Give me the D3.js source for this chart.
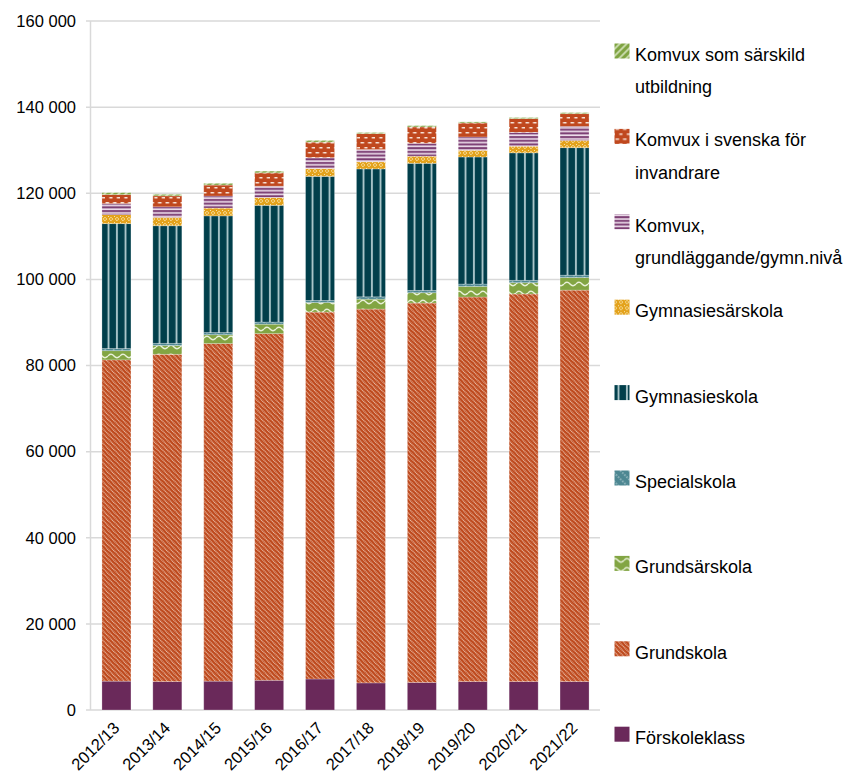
<!DOCTYPE html>
<html><head><meta charset="utf-8">
<script src="https://cdn.jsdelivr.net/npm/d3@7"></script>
<style>
html,body{margin:0;padding:0;background:#fff;}
svg{display:block;font-family:"Liberation Sans",Arial,sans-serif;}
</style></head>
<body>
<svg id="chart" width="854" height="775"></svg>
<script>
// ---- data ----
const years = ["2012/13","2013/14","2014/15","2015/16","2016/17","2017/18","2018/19","2019/20","2020/21","2021/22"];
const forskoleklass   = [6700, 6600, 6700, 6900, 7200, 6300, 6400, 6600, 6600, 6600];
const grundskola      = [74600, 76000, 78400, 80500, 85200, 86800, 88100, 89300, 90000, 90900];
const grundsarskola   = [2140, 2050, 2050, 2190, 2220, 2300, 2400, 2470, 2630, 2930];
const specialskola    = [500, 500, 500, 500, 500, 550, 550, 550, 550, 550];
const gymnasieskola   = [29000, 27300, 27100, 27100, 28800, 29700, 29500, 29500, 29600, 29600];
const gymnasiesarskola= [2100, 1950, 1800, 1800, 1800, 1650, 1650, 1550, 1550, 1700];
const komvuxGrund     = [2550, 2450, 2800, 2650, 2550, 2850, 3000, 3100, 3200, 3250];
const komvuxSfi       = [2100, 2550, 2550, 3100, 3600, 3700, 3800, 3250, 3200, 2950];
const komvuxSarskild  = [450, 350, 400, 400, 400, 250, 300, 250, 250, 250];
const yTicks = [0, 20000, 40000, 60000, 80000, 100000, 120000, 140000, 160000];

// stack order bottom -> top
const seriesKeys = ["forskoleklass","grundskola","grundsarskola","specialskola","gymnasieskola","gymnasiesarskola","komvuxGrund","komvuxSfi","komvuxSarskild"];
const seriesValues = {forskoleklass, grundskola, grundsarskola, specialskola, gymnasieskola, gymnasiesarskola, komvuxGrund, komvuxSfi, komvuxSarskild};
const seriesLabels = {
  forskoleklass: ["Förskoleklass"],
  grundskola: ["Grundskola"],
  grundsarskola: ["Grundsärskola"],
  specialskola: ["Specialskola"],
  gymnasieskola: ["Gymnasieskola"],
  gymnasiesarskola: ["Gymnasiesärskola"],
  komvuxGrund: ["Komvux,", "grundläggande/gymn.nivå"],
  komvuxSfi: ["Komvux i svenska för", "invandrare"],
  komvuxSarskild: ["Komvux som särskild", "utbildning"]
};

const table = years.map((y, i) => {
  const row = {year: y};
  seriesKeys.forEach(k => row[k] = seriesValues[k][i]);
  return row;
});

const svg = d3.select("#chart");
const defs = svg.append("defs");

// ---- patterns ----
function pat(id, w, h, transform) {
  const p = defs.append("pattern").attr("id", id).attr("patternUnits", "userSpaceOnUse")
    .attr("width", w).attr("height", h);
  if (transform) p.attr("patternTransform", transform);
  return p;
}
let p;
// Grundskola: "\" stripes
p = pat("p-grundskola", 3.4, 3.4, "rotate(-45)");
p.append("rect").attr("width", 3.4).attr("height", 3.4).attr("fill", "#BE4A1E");
p.append("line").attr("x1", 0.7).attr("y1", 0).attr("x2", 0.7).attr("y2", 3.4)
  .attr("stroke", "#F2CDBA").attr("stroke-width", 1.15).attr("stroke-dasharray", "1.1 0.6");
// Grundsärskola: waves
p = pat("p-grundsarskola", 12, 9);
p.append("rect").attr("width", 12).attr("height", 9).attr("fill", "#82A543");
p.append("path").attr("d", "M0,5 Q3,1.6 6,5 T12,5").attr("fill", "none")
  .attr("stroke", "#E8F0D8").attr("stroke-width", 1.4);
// Specialskola
p = pat("p-specialskola", 6, 6, "rotate(-45)");
p.append("rect").attr("width", 6).attr("height", 6).attr("fill", "#4D8792");
p.append("line").attr("x1", 1).attr("y1", 0).attr("x2", 1).attr("y2", 6)
  .attr("stroke", "#D0E2E5").attr("stroke-width", 1).attr("stroke-dasharray", "1.5 1.5");
// Gymnasieskola: vertical stripes
p = pat("p-gymnasieskola", 8.5, 8.5);
p.append("rect").attr("width", 8.5).attr("height", 8.5).attr("fill", "#013F4B");
p.append("rect").attr("x", 5.6).attr("width", 1.7).attr("height", 8.5).attr("fill", "#BCD4D8");
// Gymnasiesärskola: small diamonds
p = pat("p-gymnasiesarskola", 6, 6);
p.append("rect").attr("width", 6).attr("height", 6).attr("fill", "#E3A21C");
p.append("path").attr("d", "M3,1.2 L4.8,3 L3,4.8 L1.2,3 Z").attr("fill", "none")
  .attr("stroke", "#F8E2A8").attr("stroke-width", 0.9);
p.append("rect").attr("x", 0).attr("y", 0).attr("width", 1).attr("height", 1).attr("fill", "#F8E2A8");
// Komvux grund: horizontal stripes
p = pat("p-komvuxGrund", 6, 3.7);
p.append("rect").attr("width", 6).attr("height", 3.7).attr("fill", "#7A3C72");
p.append("rect").attr("y", 1.2).attr("width", 6).attr("height", 1.7).attr("fill", "#ECDDEA");
// SFI: bricks
p = pat("p-komvuxSfi", 7.5, 10);
p.append("rect").attr("width", 7.5).attr("height", 10).attr("fill", "#C0481E");
p.append("rect").attr("x", 0.5).attr("y", 2).attr("width", 3.6).attr("height", 1.5).attr("fill", "#F7E1D6");
p.append("rect").attr("x", 4.3).attr("y", 7).attr("width", 3.2).attr("height", 1.5).attr("fill", "#F7E1D6");
// Komvux särskild: "/" stripes
p = pat("p-komvuxSarskild", 5, 5, "rotate(45)");
p.append("rect").attr("width", 5).attr("height", 5).attr("fill", "#7FA442");
p.append("line").attr("x1", 1).attr("y1", 0).attr("x2", 1).attr("y2", 5)
  .attr("stroke", "#DCE9C6").attr("stroke-width", 1.5);

const fills = {
  forskoleklass: "#6A295A",
  grundskola: "url(#p-grundskola)",
  grundsarskola: "url(#p-grundsarskola)",
  specialskola: "url(#p-specialskola)",
  gymnasieskola: "url(#p-gymnasieskola)",
  gymnasiesarskola: "url(#p-gymnasiesarskola)",
  komvuxGrund: "url(#p-komvuxGrund)",
  komvuxSfi: "url(#p-komvuxSfi)",
  komvuxSarskild: "url(#p-komvuxSarskild)"
};

// ---- scales ----
const x = d3.scaleBand().domain(years).range([91, 600]).paddingInner(0.43).paddingOuter(0.215);
const y = d3.scaleLinear().domain([0, 160000]).range([710, 21]);
const fmt = d3.formatLocale({decimal: ",", thousands: " ", grouping: [3], currency: ["", " kr"]}).format(",d");

// gridlines
svg.append("g").selectAll("line").data(yTicks).join("line")
  .attr("x1", 86).attr("x2", 600)
  .attr("y1", d => y(d)).attr("y2", d => y(d))
  .attr("stroke", "#D9D9D9").attr("stroke-width", 1.5);
// vertical axis line
svg.append("line").attr("x1", 90.5).attr("x2", 90.5).attr("y1", y(160000)).attr("y2", y(0))
  .attr("stroke", "#D9D9D9").attr("stroke-width", 1.5);

// y axis labels
const yAxis = d3.axisLeft(y).tickValues(yTicks).tickFormat(fmt).tickSize(0).tickPadding(0);
const gy = svg.append("g").attr("transform", "translate(76,0)").call(yAxis);
gy.select(".domain").remove();
gy.selectAll("text").attr("font-size", 16.5).attr("fill", "#000")
  .attr("font-family", "Liberation Sans, Arial, sans-serif");

// bars
const stack = d3.stack().keys(seriesKeys)(table);
svg.append("g").selectAll("g").data(stack).join("g")
  .attr("fill", d => fills[d.key])
  .selectAll("rect").data(d => d).join("rect")
  .attr("x", d => x(d.data.year))
  .attr("width", x.bandwidth())
  .attr("y", d => y(d[1]))
  .attr("height", d => y(d[0]) - y(d[1]))
  .attr("stroke", "#fff").attr("stroke-opacity", 0.3).attr("stroke-width", 0.8);

// x axis labels
const xAxis = d3.axisBottom(x).tickSize(0).tickPadding(0);
const gx = svg.append("g").attr("transform", "translate(0,710)").call(xAxis);
gx.select(".domain").remove();
gx.selectAll("text")
  .attr("font-size", 16.5).attr("fill", "#000")
  .attr("font-family", "Liberation Sans, Arial, sans-serif")
  .attr("text-anchor", "end")
  .attr("dy", null).attr("y", 0)
  .attr("transform", "translate(4,19) rotate(-45)");

// legend
const legendOrder = seriesKeys.slice().reverse();
const lg = svg.append("g").selectAll("g").data(legendOrder).join("g")
  .attr("transform", (d, i) => `translate(0,${61 + i * 85.4})`);
lg.append("rect").attr("x", 614.5).attr("y", -17.5).attr("width", 15).attr("height", 15)
  .attr("fill", d => fills[d]);
lg.append("text").attr("x", 635).attr("font-size", 18).attr("fill", "#000")
  .selectAll("tspan").data(d => seriesLabels[d]).join("tspan")
  .attr("x", 635).attr("dy", (d, i) => i === 0 ? 0 : 32.3).text(d => d);
</script>
</body></html>
